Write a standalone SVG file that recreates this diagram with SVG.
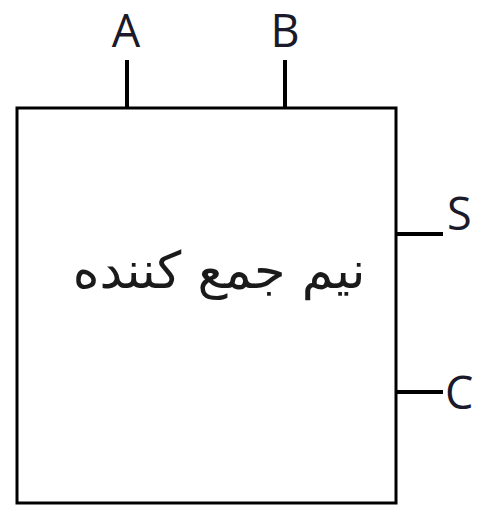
<svg xmlns="http://www.w3.org/2000/svg" width="478" height="506" viewBox="0 0 478 506">
<style>
.w{stroke:#000;stroke-width:4;fill:none}
.lbl{font-family:"Open Sans","DejaVu Sans",sans-serif;font-size:45px;fill:#1a1a2a}
.fa{font-family:"DejaVu Sans","Noto Sans",sans-serif;font-size:51px;fill:#1a1a1a}
</style>
<rect width="478" height="506" fill="#fff"/>
<g id="connectors">
<line class="w" x1="127" y1="60" x2="127" y2="108"/>
<line class="w" x1="285" y1="60" x2="285" y2="108"/>
<line class="w" x1="396" y1="234" x2="443" y2="234"/>
<line class="w" x1="396" y1="392" x2="443" y2="392"/>
</g>
<g id="halfadder">
<rect x="17" y="108" width="379" height="395" fill="#fff" stroke="#000" stroke-width="3"/>
<text class="fa" x="219" y="288" text-anchor="middle" direction="rtl">نیم جمع کننده</text>
</g>
<g id="A"><text class="lbl" x="126" y="47" text-anchor="middle">A</text></g>
<g id="B"><text class="lbl" x="285" y="47" text-anchor="middle">B</text></g>
<g id="S"><text class="lbl" x="447" y="230">S</text></g>
<g id="C"><text class="lbl" x="445" y="409">C</text></g>
</svg>
